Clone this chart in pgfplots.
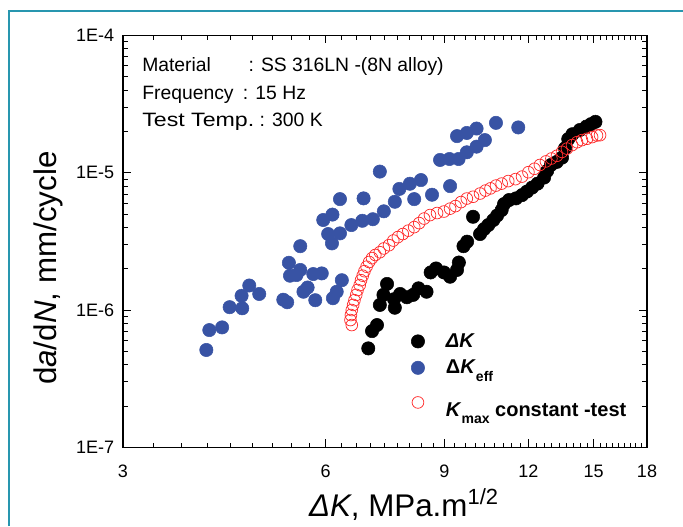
\documentclass[border=0pt]{standalone}
\usepackage{pgfplots}
\pgfplotsset{compat=1.18}
\usepackage{fontspec}
\setmainfont{Liberation Sans}
\definecolor{ptblue}{RGB}{56,83,164}
\definecolor{ptred}{RGB}{255,45,45}
\definecolor{frameteal}{RGB}{40,150,175}
\newcommand{\lsub}[1]{\raisebox{-5.5pt}{\fontsize{10.5}{12}\selectfont\bfseries #1}}
\begin{document}
\begin{tikzpicture}
\path[use as bounding box] (0,0) rectangle (512.25pt,-394.5pt);
\draw[frameteal, line width=1.1pt] (6.75pt,-394.5pt) -- (6.75pt,-8.25pt) -- (512.25pt,-8.25pt);
\begin{axis}[
  at={(92.25pt,-335.5pt)}, anchor=south west,
  scale only axis, width=393pt, height=308.9pt,
  xmode=log, ymode=log,
  xmin=3, xmax=18, ymin=1e-7, ymax=1e-4,
  axis line style={line width=0.9pt},
  tick pos=both, tick align=inside,
  major tick length=6pt, minor tick length=3.5pt,
  every tick/.style={black, line width=0.7pt},
  xtick={3,6,9,12,15,18},
  xticklabels={\mbox{3},\mbox{6},\mbox{9},\mbox{12},\mbox{15},\mbox{18}},
  minor xtick={3.3333,3.6667,4,4.3333,4.6667,5,5.3333,5.6667,6.3333,6.6667,7,7.3333,7.6667,8,8.3333,8.6667,9.3333,9.6667,10,10.3333,10.6667,11,11.3333,11.6667,12.3333,12.6667,13,13.3333,13.6667,14,14.3333,14.6667,15.3333,15.6667,16,16.3333,16.6667,17,17.3333,17.6667},
  ytick={1e-7,1e-6,1e-5,1e-4},
  yticklabels={\mbox{1E-7},\mbox{1E-6},\mbox{1E-5},\mbox{1E-4}},
  tick label style={font=\fontsize{13.5}{16}\selectfont},
  xticklabel style={anchor=base, yshift=-22.5pt, inner sep=0pt},
  yticklabel style={anchor=east, xshift=-6.5pt, inner sep=0pt},
  xlabel={\textit{Δ}\textit{K}, MPa.m\textsuperscript{1/2}},
  ylabel={d\textit{a}/d\textit{N}, mm/cycle},
  label style={font=\fontsize{23.5}{27}\selectfont},
  xlabel style={at={(axis description cs:0.536,0)}, anchor=base, yshift=-52pt},
  ylabel style={at={(axis description cs:-0.126,0.435)}, anchor=base, rotate=0},
  legend style={draw=none, fill=none, at={(axis description cs:0.542,0.29)}, anchor=north west,
    font=\fontsize{15}{18}\selectfont\bfseries, row sep=4pt,
    /tikz/every odd column/.append style={column sep=14pt}},
  legend cell align=left,
]
\addplot[only marks, mark=*, mark size=5pt, black, mark options={fill=black, draw=black}] coordinates {
(6.94,5.26e-7) (7.03,7.03e-7) (7.15,7.78e-7) (7.22,1.09e-6) (7.31,1.29e-6) (7.40,1.55e-6)
(7.58,1.20e-6) (7.60,1.04e-6) (7.74,1.31e-6) (7.92,1.24e-6) (8.09,1.29e-6) (8.24,1.44e-6)
(8.47,1.36e-6) (8.59,1.88e-6) (8.75,2.01e-6) (8.99,1.88e-6) (9.18,1.75e-6) (9.40,1.96e-6)
(9.46,2.22e-6) (9.61,2.92e-6) (9.73,3.15e-6) (9.93,4.78e-6) (10.17,3.58e-6) (10.31,3.89e-6)
(10.46,4.16e-6) (10.64,4.52e-6) (10.78,4.88e-6) (10.95,5.35e-6) (11.04,5.92e-6) (11.23,6.33e-6)
(11.50,6.51e-6) (11.74,6.88e-6) (11.94,7.30e-6) (12.15,7.80e-6) (12.38,8.34e-6) (12.66,9.23e-6)
(12.79,1.03e-5) (12.96,1.14e-5) (13.22,1.20e-5) (13.46,1.29e-5) (13.60,1.51e-5) (13.75,1.76e-5)
(13.95,1.91e-5) (14.31,2.05e-5) (14.63,2.17e-5) (14.86,2.26e-5) (15.09,2.35e-5)
};
\addlegendentry{\textit{ΔK}}
\addplot[only marks, mark=*, mark size=5pt, ptblue, mark options={fill=ptblue, draw=ptblue}] coordinates {
(3.99,5.12e-7) (4.03,7.15e-7) (4.21,7.48e-7) (4.32,1.05e-6) (4.51,1.03e-6) (4.50,1.27e-6)
(4.62,1.51e-6) (4.78,1.31e-6) (5.19,1.19e-6) (5.26,1.14e-6) (5.50,2.92e-6) (5.29,2.21e-6)
(5.31,1.78e-6) (5.43,1.80e-6) (5.50,1.96e-6) (5.56,1.36e-6) (5.64,1.46e-6) (5.79,1.18e-6)
(5.75,1.83e-6) (5.92,1.85e-6) (5.95,4.53e-6) (6.14,4.96e-6) (6.05,3.58e-6) (6.13,3.06e-6)
(6.30,3.62e-6) (6.55,4.16e-6) (6.80,4.47e-6) (7.05,4.59e-6) (7.32,5.24e-6) (7.60,6.15e-6)
(7.72,7.63e-6) (8.00,8.32e-6) (8.31,8.85e-6) (8.12,6.43e-6) (8.63,6.92e-6) (9.18,8.00e-6)
(6.30,6.43e-6) (6.83,6.51e-6) (7.22,1.02e-5) (8.87,1.24e-5) (9.16,1.26e-5) (9.45,1.26e-5)
(9.72,1.41e-5) (10.05,1.55e-5) (10.34,1.73e-5) (9.40,1.85e-5) (9.72,1.95e-5) (10.05,2.10e-5)
(10.74,2.31e-5) (11.59,2.14e-5) (6.34,1.65e-6) (6.23,1.36e-6) (6.15,1.22e-6)
};
\addlegendentry{Δ\textit{K}\lsub{eff}}
\addplot[only marks, mark=o, mark size=4.4pt, ptred, mark options={line width=0.55pt, draw=ptred, fill=white}] coordinates {
(6.56,7.78e-7) (6.53,8.46e-7) (6.54,9.20e-7) (6.56,1.00e-6) (6.59,1.09e-6) (6.62,1.18e-6)
(6.66,1.29e-6) (6.69,1.40e-6) (6.74,1.52e-6) (6.77,1.65e-6) (6.81,1.78e-6) (6.85,1.92e-6)
(6.90,2.07e-6) (6.96,2.24e-6) (7.03,2.39e-6) (7.11,2.52e-6) (7.22,2.64e-6) (7.32,2.81e-6)
(7.45,2.97e-6) (7.56,3.21e-6) (7.68,3.40e-6) (7.81,3.58e-6) (7.96,3.79e-6) (8.12,4.02e-6)
(8.26,4.30e-6) (8.40,4.64e-6) (8.57,4.92e-6) (8.78,5.09e-6) (8.99,5.22e-6) (9.18,5.48e-6)
(9.35,5.72e-6) (9.53,6.12e-6) (9.72,6.49e-6) (9.93,6.69e-6) (10.17,7.06e-6) (10.36,7.42e-6)
(10.54,7.70e-6) (10.74,8.07e-6) (10.95,8.34e-6) (11.20,8.70e-6) (11.48,8.99e-6) (11.74,9.38e-6)
(12.00,1.01e-5) (12.25,1.07e-5) (12.48,1.14e-5) (12.74,1.21e-5) (12.98,1.27e-5) (13.23,1.33e-5)
(13.46,1.42e-5) (13.69,1.50e-5) (13.93,1.59e-5) (14.17,1.67e-5) (14.41,1.73e-5) (14.66,1.77e-5)
(14.92,1.82e-5) (15.17,1.87e-5) (15.33,1.88e-5)
};
\addlegendentry{\rule[-19pt]{0pt}{41.6pt}\textit{K}\lsub{max} constant -test}
\end{axis}
\begin{scope}[every node/.style={font=\fontsize{14.5}{17}\selectfont, inner sep=0pt, anchor=base west}]
\node at (106.5pt,-53.8pt) {Material};
\node at (186.2pt,-53.8pt) {: SS 316LN -(8N alloy)};
\node at (106.5pt,-74.5pt) {Frequency};
\node at (182pt,-74.5pt) {: 15 Hz};
\node at (106.5pt,-94.5pt) {\resizebox{84pt}{\height}{Test Temp.}};
\node at (194.5pt,-94.5pt) {: 300 K};
\end{scope}
\end{tikzpicture}
\end{document}
